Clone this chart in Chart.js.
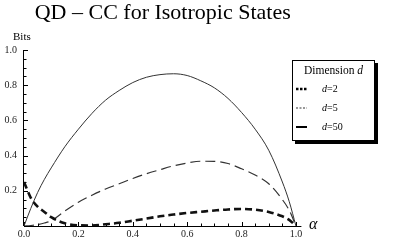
<!DOCTYPE html>
<html>
<head>
<meta charset="utf-8">
<script src="https://cdn.jsdelivr.net/npm/chart.js@4.4.1/dist/chart.umd.min.js"></script>
<style>
  html, body { margin: 0; padding: 0; background: #fff; }
  #wrap { position: relative; width: 400px; height: 250px; }
  .lbl { position: absolute; font-family: 'Liberation Serif', serif; color: #000; line-height: 1; white-space: nowrap; }
  #legend { position: absolute; left: 292px; top: 60px; width: 81px; height: 79px; border: 1px solid #000;
            box-shadow: 3px 3px 0 #000; background: #fff; font-family: 'Liberation Serif', serif; font-size: 10px; }
  #legend .ttl { position: absolute; left: 0; right: 0; top: 3px; text-align: center; font-size: 11.5px; }
  #legend .row { position: absolute; left: 3px; height: 12px; }
  #legend .row svg { position: absolute; left: 0; top: 2px; }
  #legend .row span { position: absolute; left: 26px; top: 0; white-space: nowrap; }
</style>
</head>
<body>
<div id="wrap">
  <canvas id="myChart" width="400" height="250"></canvas>
  <div class="lbl" style="left:13px; top:31px; font-size:11px;">Bits</div>
  <div class="lbl" style="left:309px; top:216px; font-size:16px; font-style:italic;">α</div>
  <div id="legend"></div>
</div>
<script>
// alpha values along the x axis
var alpha = [0, 0.025, 0.05, 0.075, 0.1, 0.15, 0.2, 0.25, 0.3, 0.35, 0.4, 0.45, 0.5,
             0.55, 0.6, 0.65, 0.7, 0.75, 0.8, 0.85, 0.9, 0.95, 0.975, 1];
// QD - CC in bits
var d2Values  = [0.25, 0.16, 0.11, 0.08, 0.05, 0.015, 0.004, 0.003, 0.01, 0.018, 0.03, 0.042, 0.055,
                 0.065, 0.074, 0.081, 0.088, 0.094, 0.097, 0.093, 0.08, 0.055, 0.035, 0];
var d5Values  = [0, 0.003, 0.008, 0.017, 0.03, 0.085, 0.135, 0.175, 0.21, 0.24, 0.27, 0.297, 0.32,
                 0.342, 0.358, 0.368, 0.367, 0.355, 0.325, 0.29, 0.24, 0.15, 0.09, 0];
var d50Values = [0, 0.10, 0.19, 0.265, 0.33, 0.45, 0.55, 0.64, 0.715, 0.77, 0.815, 0.845, 0.86,
                 0.865, 0.855, 0.825, 0.785, 0.725, 0.645, 0.55, 0.43, 0.25, 0.14, 0];
var seriesLabels = ['d=2', 'd=5', 'd=50'];
var xTicks = [0, 0.2, 0.4, 0.6, 0.8, 1.0];
var yTicks = [0.2, 0.4, 0.6, 0.8, 1.0];

function toPoints(vals) {
    return alpha.map(function(a, i) { return { x: a, y: vals[i] }; });
}

// Mathematica style axes: lines through the origin, ticks pointing inwards
var mathAxes = {
    id: 'mathAxes',
    beforeDatasetsDraw: function(chart) {
        var ctx = chart.ctx, xs = chart.scales.x, ys = chart.scales.y;
        var x0 = xs.getPixelForValue(0), y0 = ys.getPixelForValue(0);
        ctx.save();
        ctx.strokeStyle = '#000';
        ctx.lineWidth = 1;
        ctx.beginPath();
        ctx.moveTo(x0, y0 + 0.5); ctx.lineTo(xs.getPixelForValue(xs.max), y0 + 0.5);
        ctx.moveTo(x0 - 0.5, y0); ctx.lineTo(x0 - 0.5, ys.getPixelForValue(ys.max));
        for (var v = 0; v <= 1.0001; v += 0.05) {
            var major = Math.abs(v * 5 - Math.round(v * 5)) < 1e-6;
            var len = major ? 4 : 2.5;
            var px = Math.round(xs.getPixelForValue(v)) + 0.5;
            ctx.moveTo(px, y0); ctx.lineTo(px, y0 - len);
            if (v > 0.01) {
                var py = Math.round(ys.getPixelForValue(v)) + 0.5;
                ctx.moveTo(x0, py); ctx.lineTo(x0 + len, py);
            }
        }
        ctx.stroke();
        ctx.restore();
    }
};

// legend box drawn as html from the datasets
var htmlLegend = {
    id: 'htmlLegend',
    afterUpdate: function(chart) {
        var box = document.getElementById('legend');
        var tops = [22, 41, 60];
        var html = '<div class="ttl">Dimension <i>d</i></div>';
        chart.data.datasets.forEach(function(ds, i) {
            var parts = ds.label.split('=');
            html += '<div class="row" style="top:' + tops[i] + 'px">' +
                '<svg width="12" height="8"><line x1="0" y1="4" x2="11" y2="4" stroke="' + ds.legendColor +
                '" stroke-width="' + ds.legendWidth + '" stroke-dasharray="' + ds.legendDash + '"/></svg>' +
                '<span><i>' + parts[0] + '</i>=' + parts[1] + '</span></div>';
        });
        box.innerHTML = html;
    }
};

var ctx = document.getElementById('myChart').getContext('2d');
var myChart = new Chart(ctx, {
    type: 'line',
    data: {
        datasets: [{
            label: seriesLabels[0],
            data: toPoints(d2Values),
            borderColor: '#111',
            borderWidth: 2.6,
            borderDash: [7, 4],
            legendColor: '#000', legendWidth: 2.5, legendDash: '2.5,1.5'
        }, {
            label: seriesLabels[1],
            data: toPoints(d5Values),
            borderColor: '#333',
            borderWidth: 1.2,
            borderDash: [10, 5],
            legendColor: '#777', legendWidth: 1.5, legendDash: '2,1.5'
        }, {
            label: seriesLabels[2],
            data: toPoints(d50Values),
            borderColor: '#333',
            borderWidth: 1,
            legendColor: '#000', legendWidth: 2, legendDash: 'none'
        }]
    },
    options: {
        responsive: false,
        animation: false,
        events: [],
        layout: { padding: { left: 0, right: 98.6, top: 0, bottom: 0 } },
        elements: {
            point: { radius: 0 },
            line: { cubicInterpolationMode: 'monotone', fill: false }
        },
        plugins: {
            legend: { display: false },
            tooltip: { enabled: false },
            title: {
                display: true,
                fullSize: false,
                text: 'QD \u2013 CC for Isotropic States',
                color: '#000',
                font: { family: "'Liberation Serif', serif", size: 22, weight: 'normal' },
                padding: { top: 0, bottom: 23.6 }
            }
        },
        scales: {
            x: {
                type: 'linear',
                min: 0,
                max: 1.02,
                grid: { display: false, drawTicks: false, tickLength: 0 },
                border: { display: false },
                afterBuildTicks: function(scale) { scale.ticks = xTicks.map(function(v) { return { value: v }; }); },
                afterFit: function(scale) { scale.height = 24; },
                ticks: {
                    padding: 2,
                    maxRotation: 0,
                    color: '#222',
                    font: { family: "'Liberation Serif', serif", size: 10 },
                    callback: function(v) { return Number(v).toFixed(1); }
                }
            },
            y: {
                type: 'linear',
                min: 0,
                max: 1,
                grid: { display: false, drawTicks: false, tickLength: 0 },
                border: { display: false },
                afterBuildTicks: function(scale) { scale.ticks = yTicks.map(function(v) { return { value: v }; }); },
                afterFit: function(scale) { scale.width = 24; },
                ticks: {
                    padding: 7,
                    color: '#222',
                    font: { family: "'Liberation Serif', serif", size: 10 },
                    callback: function(v) { return Number(v).toFixed(1); }
                }
            }
        }
    },
    plugins: [mathAxes, htmlLegend]
});
</script>
</body>
</html>
